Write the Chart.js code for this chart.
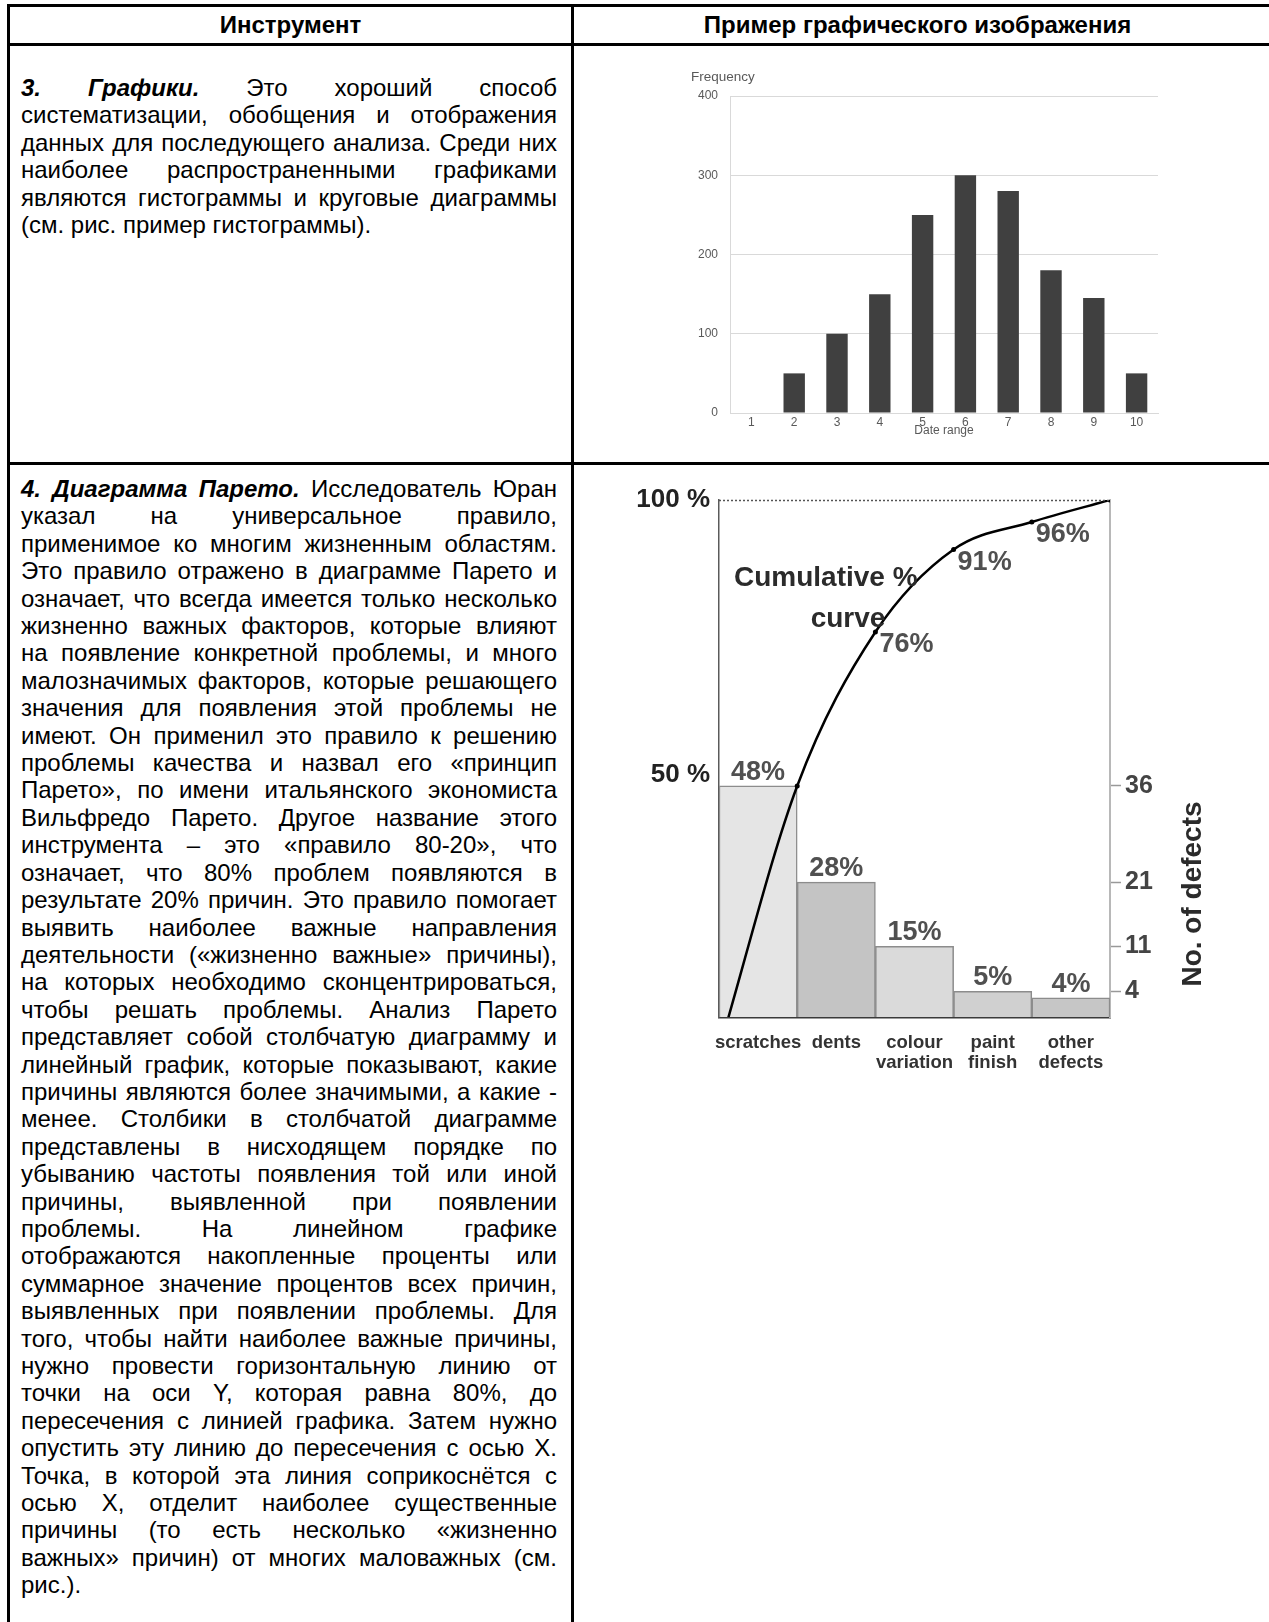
<!DOCTYPE html>
<html lang="ru">
<head>
<meta charset="utf-8">
<title>Инструменты качества</title>
<script src="https://cdn.jsdelivr.net/npm/chart.js@4.4.1/dist/chart.umd.min.js"></script>
<style>
  html, body { margin: 0; padding: 0; background: #fff; }
  body { width: 1269px; height: 1622px; position: relative; overflow: hidden;
         font-family: "Liberation Sans", Arial, sans-serif; color: #000; }
  .ln { position: absolute; background: #000; }
  .hd { position: absolute; top: 6px; height: 38px; line-height: 38px;
        font-size: 24px; font-weight: bold; text-align: center; }
  .txt { position: absolute; left: 21px; width: 536px; font-size: 24px; line-height: 27.4px; }
  .txt div { text-align: justify; text-align-last: justify; }
  .txt div.end { text-align-last: left; }
  .box { position: absolute; }
</style>
</head>
<body>

<!-- рамки таблицы -->
<div class="ln" style="left:7px; top:4px; width:1262px; height:3px;"></div>
<div class="ln" style="left:7px; top:43px; width:1262px; height:3px;"></div>
<div class="ln" style="left:7px; top:462px; width:1262px; height:3px;"></div>
<div class="ln" style="left:7px; top:4px; width:3px; height:1618px;"></div>
<div class="ln" style="left:571px; top:4px; width:3px; height:1618px;"></div>

<div class="hd" style="left:10px; width:561px;">Инструмент</div>
<div class="hd" style="left:574px; width:687px;">Пример графического изображения</div>

<div class="txt" style="top:74px;">
  <div><b><i>3. Графики.</i></b> Это хороший способ</div>
  <div>систематизации, обобщения и отображения</div>
  <div>данных для последующего анализа. Среди них</div>
  <div>наиболее распространенными графиками</div>
  <div>являются гистограммы и круговые диаграммы</div>
  <div class="end">(см. рис. пример гистограммы).</div>
</div>

<div class="txt" style="top:475px;">
  <div><b><i>4. Диаграмма Парето.</i></b> Исследователь Юран</div>
  <div>указал на универсальное правило,</div>
  <div>применимое ко многим жизненным областям.</div>
  <div>Это правило отражено в диаграмме Парето и</div>
  <div>означает, что всегда имеется только несколько</div>
  <div>жизненно важных факторов, которые влияют</div>
  <div>на появление конкретной проблемы, и много</div>
  <div>малозначимых факторов, которые решающего</div>
  <div>значения для появления этой проблемы не</div>
  <div>имеют. Он применил это правило к решению</div>
  <div>проблемы качества и назвал его «принцип</div>
  <div>Парето», по имени итальянского экономиста</div>
  <div>Вильфредо Парето. Другое название этого</div>
  <div>инструмента – это «правило 80-20», что</div>
  <div>означает, что 80% проблем появляются в</div>
  <div>результате 20% причин. Это правило помогает</div>
  <div>выявить наиболее важные направления</div>
  <div>деятельности («жизненно важные» причины),</div>
  <div>на которых необходимо сконцентрироваться,</div>
  <div>чтобы решать проблемы. Анализ Парето</div>
  <div>представляет собой столбчатую диаграмму и</div>
  <div>линейный график, которые показывают, какие</div>
  <div>причины являются более значимыми, а какие -</div>
  <div>менее. Столбики в столбчатой диаграмме</div>
  <div>представлены в нисходящем порядке по</div>
  <div>убыванию частоты появления той или иной</div>
  <div>причины, выявленной при появлении</div>
  <div>проблемы. На линейном графике</div>
  <div>отображаются накопленные проценты или</div>
  <div>суммарное значение процентов всех причин,</div>
  <div>выявленных при появлении проблемы. Для</div>
  <div>того, чтобы найти наиболее важные причины,</div>
  <div>нужно провести горизонтальную линию от</div>
  <div>точки на оси Y, которая равна 80%, до</div>
  <div>пересечения с линией графика. Затем нужно</div>
  <div>опустить эту линию до пересечения с осью X.</div>
  <div>Точка, в которой эта линия соприкоснётся с</div>
  <div>осью X, отделит наиболее существенные</div>
  <div>причины (то есть несколько «жизненно</div>
  <div>важных» причин) от многих маловажных (см.</div>
  <div class="end">рис.).</div>
</div>

<div class="box" style="left:640px; top:55px;"><canvas id="histChart" width="560" height="395"></canvas></div>
<div class="box" style="left:600px; top:460px;"><canvas id="paretoChart" width="669" height="640"></canvas></div>

<script>
// Гистограмма
const histLabels = ['1', '2', '3', '4', '5', '6', '7', '8', '9', '10'];
const histValues = [0, 50, 100, 150, 250, 300, 280, 180, 145, 50];
const histTicks = [0, 100, 200, 300, 400];

// Диаграмма Парето
const defectLabels = [['scratches'], ['dents'], ['colour', 'variation'], ['paint', 'finish'], ['other', 'defects']];
const defectCounts = [36, 21, 11, 4, 3];
const defectShares = ['48%', '28%', '15%', '5%', '4%'];
const cumulative = [0, 48, 76, 91, 96, 100];
const cumulativeLabels = ['', '', '76%', '91%', '96%', ''];
const countTicks = [4, 11, 21, 36];
const pctTicks = [50, 100];
const barColors = ['#e5e5e5', '#c4c4c4', '#dadada', '#d0d0d0', '#c6c6c6'];

const FONT = '"Liberation Sans", Arial, sans-serif';
Chart.defaults.font.family = FONT;
Chart.defaults.animation = false;

// подпись "Frequency" над осью
const histExtras = {
    id: 'histExtras',
    afterDraw(chart) {
        const { ctx, chartArea } = chart;
        ctx.save();
        ctx.font = '13.5px ' + FONT;
        ctx.fillStyle = '#595959';
        ctx.textBaseline = 'middle';
        ctx.fillText('Frequency', chartArea.left - 39, chartArea.top - 19);
        ctx.restore();
    }
};

function createHistogram() {
    const ctx = document.getElementById('histChart').getContext('2d');
    new Chart(ctx, {
        type: 'bar',
        data: {
            labels: histLabels,
            datasets: [{
                data: histValues,
                backgroundColor: '#404040',
                barPercentage: 0.5,
                categoryPercentage: 1
            }]
        },
        options: {
            responsive: false,
            devicePixelRatio: 1,
            layout: { padding: { left: 0, right: 42, top: 41, bottom: 13 } },
            plugins: { legend: { display: false }, tooltip: { enabled: false } },
            scales: {
                x: {
                    grid: { display: false, drawTicks: false },
                    border: { color: '#d9d9d9' },
                    ticks: { color: '#595959', font: { size: 12 }, padding: 2, maxRotation: 0, autoSkip: false },
                    title: { display: true, text: 'Date range', color: '#595959', font: { size: 12, lineHeight: 1 }, padding: { top: 0, bottom: 0 } },
                    afterFit: s => { s.height = 24; }
                },
                y: {
                    min: 0, max: 400,
                    afterBuildTicks: s => { s.ticks = histTicks.map(v => ({ value: v })); },
                    grid: { color: '#d9d9d9', drawTicks: false },
                    border: { color: '#d9d9d9' },
                    ticks: { color: '#595959', font: { size: 12 }, padding: 12 },
                    afterFit: s => { s.width = 90; }
                }
            }
        },
        plugins: [histExtras]
    });
}

// подписи, пунктир 100 % и названия на диаграмме Парето
const paretoExtras = {
    id: 'paretoExtras',
    afterDatasetsDraw(chart) {
        const { ctx, chartArea } = chart;
        const yPct = chart.scales.yPct;
        ctx.save();

        const yTop = Math.round(yPct.getPixelForValue(100)) + 0.5;
        ctx.strokeStyle = '#555';
        ctx.lineWidth = 1.5;
        ctx.setLineDash([2, 2]);
        ctx.beginPath();
        ctx.moveTo(chartArea.left, yTop);
        ctx.lineTo(chartArea.right, yTop);
        ctx.stroke();
        ctx.setLineDash([]);

        ctx.font = 'bold 27px ' + FONT;
        ctx.fillStyle = '#505050';
        ctx.textAlign = 'center';
        ctx.textBaseline = 'alphabetic';
        chart.getDatasetMeta(0).data.forEach((bar, i) => {
            ctx.fillText(defectShares[i], bar.x, bar.y - 6);
        });

        ctx.textAlign = 'left';
        chart.getDatasetMeta(1).data.forEach((pt, i) => {
            if (cumulativeLabels[i]) ctx.fillText(cumulativeLabels[i], pt.x + 4, pt.y + 20);
        });

        ctx.font = 'bold 28px ' + FONT;
        ctx.fillStyle = '#2b2b2b';
        ctx.fillText('Cumulative %', chartArea.left + 15, chartArea.top + 86);
        ctx.textAlign = 'center';
        ctx.fillText('curve', chartArea.left + 129, chartArea.top + 127);

        ctx.translate(chartArea.right + 83, chartArea.top + 394);
        ctx.rotate(-Math.PI / 2);
        ctx.textBaseline = 'middle';
        ctx.fillText('No. of defects', 0, 0);
        ctx.restore();
    }
};

function createPareto() {
    const ctx = document.getElementById('paretoChart').getContext('2d');
    new Chart(ctx, {
        type: 'bar',
        data: {
            labels: defectLabels,
            datasets: [{
                type: 'bar',
                data: defectCounts,
                xAxisID: 'x',
                yAxisID: 'yCnt',
                backgroundColor: barColors,
                borderColor: '#8c8c8c',
                borderWidth: 1.5,
                grouped: false,
                barPercentage: 1,
                categoryPercentage: 1,
                order: 2
            }, {
                type: 'line',
                data: cumulative.map((v, i) => ({ x: i, y: v })),
                xAxisID: 'x2',
                yAxisID: 'yPct',
                borderColor: '#000',
                borderWidth: 2.5,
                cubicInterpolationMode: 'monotone',
                pointRadius: 2.5,
                pointBackgroundColor: '#000',
                pointBorderWidth: 0,
                order: 1
            }]
        },
        options: {
            responsive: false,
            devicePixelRatio: 1,
            layout: { padding: { left: 0, right: 0, top: 40, bottom: 0 } },
            plugins: { legend: { display: false }, tooltip: { enabled: false } },
            scales: {
                x: {
                    grid: { display: false, drawTicks: false },
                    border: { color: '#3a3a3a', width: 2.5 },
                    ticks: { color: '#333', font: { size: 18.5, weight: 'bold', lineHeight: 1.08 }, padding: 16, maxRotation: 0, autoSkip: false },
                    afterFit: s => { s.height = 83; }
                },
                x2: { type: 'linear', display: false, offset: false, min: 0, max: defectCounts.length },
                yPct: {
                    position: 'left',
                    min: 6, max: 100,
                    afterBuildTicks: s => { s.ticks = pctTicks.map(v => ({ value: v })); },
                    grid: { display: false, drawTicks: false },
                    border: { color: '#5a5a5a', width: 1.5 },
                    ticks: { color: '#222', font: { size: 26, weight: 'bold' }, padding: 9, callback: v => v + ' %' },
                    afterFit: s => { s.width = 119; }
                },
                yCnt: {
                    position: 'right',
                    min: 0, max: 80.5,
                    afterBuildTicks: s => { s.ticks = countTicks.map(v => ({ value: v })); },
                    grid: { drawOnChartArea: false, drawTicks: true, tickLength: 11, color: '#999', tickWidth: 1.5 },
                    border: { color: '#b8b8b8', width: 2 },
                    ticks: { color: '#444', font: { size: 25, weight: 'bold' }, padding: 4 },
                    afterFit: s => { s.width = 159; }
                }
            }
        },
        plugins: [paretoExtras]
    });
}

document.addEventListener('DOMContentLoaded', () => {
    createHistogram();
    createPareto();
});
</script>
</body>
</html>
